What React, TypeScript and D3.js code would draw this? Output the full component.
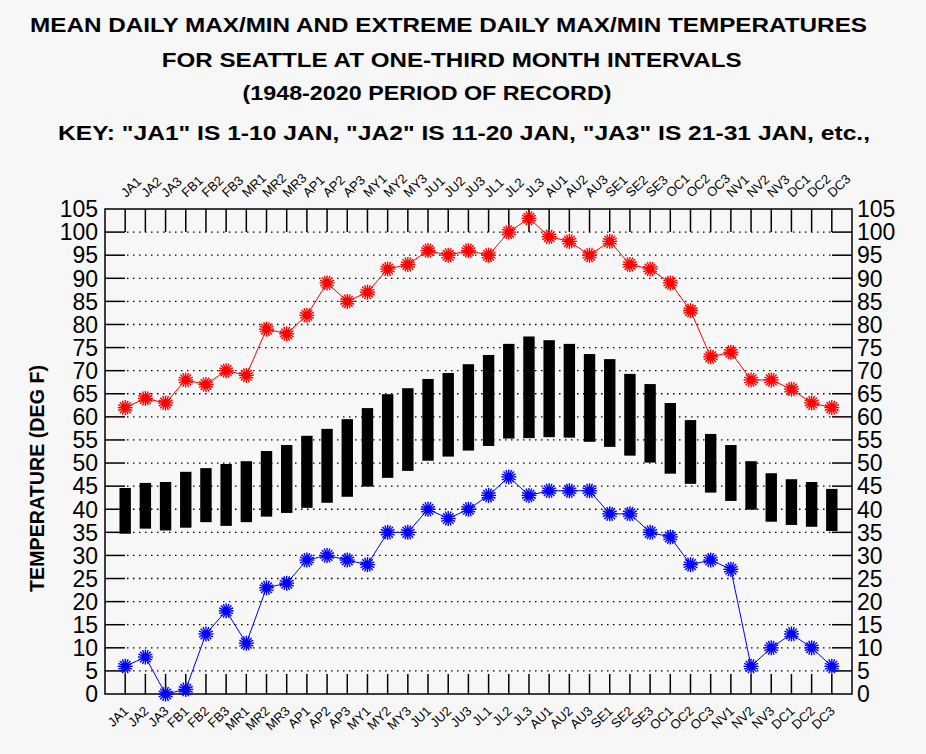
import React from "react";
import * as d3 from "d3";

const categories = ["JA1","JA2","JA3","FB1","FB2","FB3","MR1","MR2","MR3","AP1","AP2","AP3","MY1","MY2","MY3","JU1","JU2","JU3","JL1","JL2","JL3","AU1","AU2","AU3","SE1","SE2","SE3","OC1","OC2","OC3","NV1","NV2","NV3","DC1","DC2","DC3"];
const meanMax = [44.6,45.7,45.9,48.1,48.9,49.8,50.4,52.6,53.9,55.9,57.4,59.5,61.9,64.9,66.2,68.2,69.5,71.4,73.4,75.8,77.4,76.6,75.8,73.6,72.5,69.3,67.1,63.0,59.3,56.3,53.9,50.4,47.8,46.5,45.9,44.4];
const meanMin = [34.7,35.8,35.4,36.0,37.2,36.4,37.2,38.4,39.2,40.3,41.4,42.7,44.9,46.8,48.3,50.5,51.4,52.7,53.7,55.3,55.4,55.6,55.5,54.6,53.5,51.6,50.1,47.7,45.5,43.6,41.8,39.9,37.3,36.6,36.2,35.3];
const extremeMax = [62,64,63,68,67,70,69,79,78,82,89,85,87,92,93,96,95,96,95,100,103,99,98,95,98,93,92,89,83,73,74,68,68,66,63,62];
const extremeMin = [6,8,0,1,13,18,11,23,24,29,30,29,28,35,35,40,38,40,43,47,43,44,44,44,39,39,35,34,28,29,27,6,10,13,10,6];
const yTicks = d3.range(0, 106, 5);
const titleLines = [
  "MEAN DAILY MAX/MIN AND EXTREME DAILY MAX/MIN TEMPERATURES",
  "FOR SEATTLE AT ONE-THIRD MONTH INTERVALS",
  "(1948-2020 PERIOD OF RECORD)",
  "KEY: \"JA1\" IS 1-10 JAN, \"JA2\" IS 11-20 JAN, \"JA3\" IS 21-31 JAN, etc.,",
];

const W = 926, H = 754;
const L = 105, R = 852, T = 209, B = 694;
const FONT = "'Liberation Sans', Arial, Helvetica, sans-serif";

function Star({ cx, cy, color }: { cx: number; cy: number; color: string }) {
  const spokes = d3.range(16).map((i) => (i * Math.PI) / 8);
  return (
    <g>
      {spokes.map((a, i) => (
        <line key={i} x1={cx} y1={cy} x2={cx + 7.5 * Math.cos(a)} y2={cy + 7.5 * Math.sin(a)} stroke={color} strokeWidth={1.4} />
      ))}
      <circle cx={cx} cy={cy} r={3.8} fill={color} />
    </g>
  );
}

export default function App() {
  const x = d3.scaleLinear().domain([0, categories.length + 1]).range([L, R]);
  const y = d3.scaleLinear().domain([0, 105]).range([B, T]);
  const line = d3.line<number>().x((_, i) => x(i + 1)).y((d) => y(d));

  const titleSpecs = [
    { cx: 448.5, by: 32, len: 837 },
    { cx: 451.7, by: 66.5, len: 580 },
    { cx: 427, by: 100, len: 369 },
    { cx: 464, by: 140, len: 812 },
  ];

  return (
    <svg width={W} height={H} style={{ position: "absolute", left: 0, top: 0, display: "block" }} fontFamily={FONT}>
      <rect x={0} y={0} width={W} height={H} fill="#f7f7f7" />
      {titleLines.map((t, i) => (
        <text key={i} x={titleSpecs[i].cx} y={titleSpecs[i].by} textAnchor="middle" fontWeight="bold" fontSize={21}
          textLength={titleSpecs[i].len} lengthAdjust="spacingAndGlyphs" fill="#000">{t}</text>
      ))}
      <text transform={`translate(44,${(365 + 592) / 2}) rotate(-90)`} textAnchor="middle" fontWeight="bold" fontSize={20}
        textLength={227} lengthAdjust="spacingAndGlyphs">TEMPERATURE (DEG F)</text>

      {/* grid */}
      {yTicks.filter((v) => v > 0 && v < 105).map((v) => (
        <g key={v}>
          <line x1={L} x2={L + 20} y1={y(v)} y2={y(v)} stroke="#000" strokeWidth={1.5} />
          <line x1={R - 20} x2={R} y1={y(v)} y2={y(v)} stroke="#000" strokeWidth={1.5} />
          <line x1={L + 22} x2={R - 20} y1={y(v)} y2={y(v)} stroke="#000" strokeWidth={1.3} strokeDasharray="1.5,4.5" />
        </g>
      ))}
      {categories.map((c, i) => (
        <g key={c}>
          <line x1={x(i + 1)} x2={x(i + 1)} y1={T} y2={y(100)} stroke="#000" strokeWidth={1.5} />
          <line x1={x(i + 1)} x2={x(i + 1)} y1={B} y2={B - 20} stroke="#000" strokeWidth={1.5} />
          <text transform={`translate(${x(i + 1) + 1},198) rotate(-44)`} fontSize={13} fill="#000">{c}</text>
          <text transform={`translate(${x(i + 1) + 4},712) rotate(-44)`} fontSize={13} textAnchor="end" fill="#000">{c}</text>
        </g>
      ))}
      <rect x={L} y={T} width={R - L} height={B - T} fill="none" stroke="#000" strokeWidth={1.5} />

      {yTicks.map((v) => (
        <g key={"l" + v}>
          <text x={98} y={y(v)} dy="0.36em" textAnchor="end" fontSize={23} fill="#000">{v}</text>
          <text x={857} y={y(v)} dy="0.36em" textAnchor="start" fontSize={23} fill="#000">{v}</text>
        </g>
      ))}

      {/* bars */}
      {categories.map((c, i) => (
        <rect key={"b" + c} x={x(i + 1) - 5.7} width={11.4} y={y(meanMax[i])} height={y(meanMin[i]) - y(meanMax[i])} fill="#000" />
      ))}

      <path d={line(extremeMax) || ""} fill="none" stroke="#ff0000" strokeWidth={1} />
      <path d={line(extremeMin) || ""} fill="none" stroke="#0000ff" strokeWidth={1} />
      {extremeMax.map((v, i) => <Star key={"r" + i} cx={x(i + 1)} cy={y(v)} color="#ff0000" />)}
      {extremeMin.map((v, i) => <Star key={"u" + i} cx={x(i + 1)} cy={y(v)} color="#0000ff" />)}
    </svg>
  );
}
